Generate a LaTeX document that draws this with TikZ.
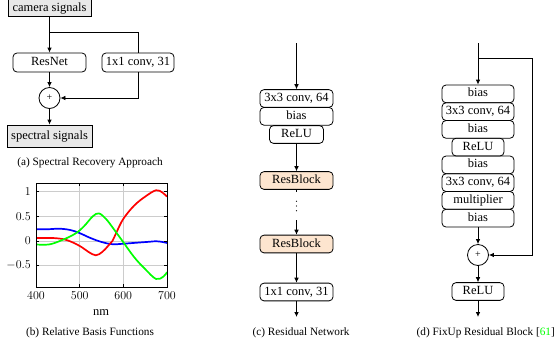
\documentclass[tikz,border=0pt]{standalone}
\usepackage{fontspec}
\setmainfont{Liberation Serif}
\usetikzlibrary{arrows.meta}
\definecolor{rbfill}{RGB}{253,229,207}
\tikzset{
  basetxt/.style={font=\fontsize{12.5}{15}\selectfont, text height=8.6pt, text depth=2.6pt, inner sep=0pt, line width=0.8pt},
  blk/.style={basetxt, draw, rounded corners=4pt, minimum height=17.75pt},
  sig/.style={basetxt, draw, fill=gray!18, minimum height=22pt},
  sumnode/.style={draw, circle, minimum size=21pt, inner sep=0pt, line width=0.8pt, font=\fontsize{10}{12}\selectfont},
  arr/.style={line width=0.8pt, -{Latex[length=5pt,width=4.6pt]}},
  ln/.style={line width=0.8pt},
  captxt/.style={font=\fontsize{11.25}{13}\selectfont, inner sep=0pt},
  ticklbl/.style={font=\fontsize{12.5}{15}\selectfont, inner sep=0pt},
}
\begin{document}
\begin{tikzpicture}[x=1pt,y=-1pt]
\useasboundingbox (0,0) rectangle (554,349);
% ---------- (a)
\node[sig, minimum width=83pt, text height=13.6pt] (cam) at (49.5,5.5) {camera signals};
\node[blk, minimum width=73pt, minimum height=19pt] (resnet) at (49.5,62.5) {ResNet};
\node[blk, minimum width=72pt, minimum height=19pt] (conv1) at (138,62.5) {1x1 conv, 31};
\node[sumnode] (sumA) at (49.5,98) {+};
\node[sig, minimum width=85pt] (spec) at (49.5,136) {spectral signals};
\coordinate (ba) at (49.5,32);
\draw[arr] (cam) -- (resnet);
\draw[ln] (ba) -| (conv1.north);
\draw[arr] (resnet) -- (sumA);
\draw[arr] (conv1.south) |- (sumA.east);
\draw[arr] (sumA) -- (spec);
\node[captxt] (capa) at (90,163) {(a) Spectral Recovery Approach};
% ---------- (b)
\draw[gray!40, line width=0.7pt] (79,183) -- (79,287) (123,183) -- (123,287)
  (36,191.7) -- (167,191.7) (36,216.3) -- (167,216.3) (36,241) -- (167,241) (36,265.6) -- (167,265.6);
\begin{scope}[shift={(36,241)}, x=0.4367pt, y=49.3pt]
  \clip (0,1.175) rectangle (300,-0.93);
  \draw[blue, line width=1.7pt] plot[smooth, tension=0.6] coordinates {(0,0.24) (30,0.24) (55,0.25) (80,0.22) (100,0.16) (125,0.06) (150,-0.02) (175,-0.065) (200,-0.055) (230,-0.035) (260,-0.015) (275,-0.005) (290,-0.02) (300,-0.04)};
  \draw[red, line width=1.7pt] plot[smooth, tension=0.6] coordinates {(0,0.06) (40,0.06) (70,0.02) (100,-0.1) (120,-0.22) (137,-0.29) (152,-0.22) (165,-0.1) (175,0) (184,0.17) (200,0.45) (225,0.72) (250,0.9) (275,1.03) (290,0.98) (300,0.9)};
  \draw[green, line width=1.7pt] plot[smooth, tension=0.6] coordinates {(0,-0.07) (30,-0.07) (60,0.02) (90,0.15) (110,0.3) (130,0.5) (144,0.56) (160,0.45) (175,0.28) (184,0.17) (198,0) (225,-0.33) (250,-0.57) (275,-0.77) (292,-0.72) (300,-0.63)};
\end{scope}
\draw[line width=0.7pt] (36,183) rectangle (167,287);
\foreach \xx in {79,123} {\draw[line width=0.5pt] (\xx,287) -- (\xx,284) (\xx,183) -- (\xx,186);}
\foreach \yy in {191.7,216.3,241,265.6} {\draw[line width=0.5pt] (36,\yy) -- (39,\yy) (167,\yy) -- (164,\yy);}
\node[ticklbl, anchor=east] (t1) at (31,191.7) {$1$};
\node[ticklbl, anchor=east] (t2) at (31,216.3) {$0.5$};
\node[ticklbl, anchor=east] (t3) at (31,241) {$0$};
\node[ticklbl, anchor=east] (t4) at (31,265.6) {$-0.5$};
\node[ticklbl] (x1) at (36,296) {$400$};
\node[ticklbl] (x2) at (79.7,296) {$500$};
\node[ticklbl] (x3) at (123.3,296) {$600$};
\node[ticklbl] (x4) at (167,296) {$700$};
\node[ticklbl] (nm) at (101,313) {nm};
\node[captxt] (capb) at (90,333) {(b) Relative Basis Functions};
% ---------- (c)
\coordinate (cin) at (296.5,43);
\node[blk, minimum width=73pt] (c1) at (296.5,98.5) {3x3 conv, 64};
\node[blk, minimum width=73pt] (c2) at (296.5,116.3) {bias};
\node[blk, minimum width=54pt] (c3) at (296.5,134.5) {ReLU};
\node[blk, minimum width=73pt, fill=rbfill] (rb1) at (296.5,180.5) {ResBlock};
\node[inner sep=0pt, minimum height=28pt, minimum width=6pt] (dots) at (296.5,206) {};
\foreach \dy in {-4.8,0,4.8} {\fill (dots.center) ++(0,\dy) circle (0.65pt);}
\node[blk, minimum width=73pt, fill=rbfill] (rb2) at (296.5,244) {ResBlock};
\node[blk, minimum width=73pt] (c4) at (296.5,292) {1x1 conv, 31};
\coordinate (cout) at (296.5,317);
\draw[arr] (cin) -- (c1);
\draw[arr] (c3) -- (rb1);
\draw[ln] (rb1) -- (dots.north);
\draw[arr] (dots.south) -- (rb2);
\draw[arr] (rb2) -- (c4);
\draw[arr] (c4) -- (cout);
\node[captxt] (capc) at (301,333) {(c) Residual Network};
% ---------- (d)
\coordinate (din) at (478,43);
\coordinate (db) at (478,58);
\node[blk, minimum width=72pt] (d1) at (478,93.875) {bias};
\node[blk, minimum width=72pt] (d2) at (478,111.625) {3x3 conv, 64};
\node[blk, minimum width=72pt] (d3) at (478,129.375) {bias};
\node[blk, minimum width=52pt] (d4) at (478,147.125) {ReLU};
\node[blk, minimum width=72pt] (d5) at (478,164.875) {bias};
\node[blk, minimum width=72pt] (d6) at (478,182.625) {3x3 conv, 64};
\node[blk, minimum width=72pt] (d7) at (478,200.375) {multiplier};
\node[blk, minimum width=72pt] (d8) at (478,218.125) {bias};
\node[sumnode] (sumD) at (478,255) {+};
\node[blk, minimum width=52pt] (d9) at (478,291.5) {ReLU};
\coordinate (dout) at (478,317);
\coordinate (dr) at (532,58);
\draw[arr] (din) -- (d1);
\draw[ln] (db) -- (dr);
\draw[arr] (dr) |- (sumD.east);
\draw[arr] (d8) -- (sumD);
\draw[arr] (sumD) -- (d9);
\draw[arr] (d9) -- (dout);
\node[captxt, anchor=west] (capd) at (416.5,333) {(d) FixUp Residual Block [\textcolor{green}{61}]};
\end{tikzpicture}
\end{document}
